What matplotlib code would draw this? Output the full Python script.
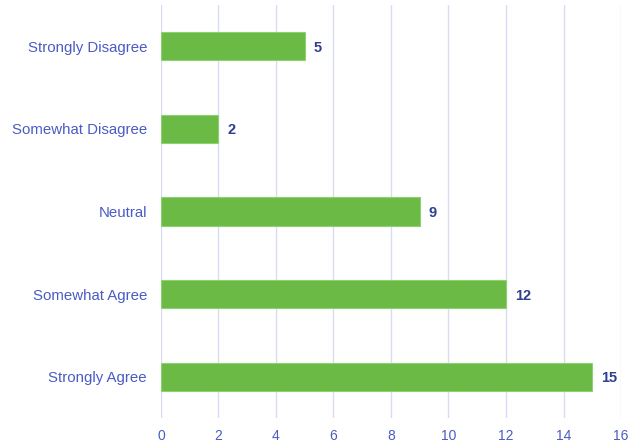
import matplotlib.pyplot as plt

categories = ["Strongly Disagree", "Somewhat Disagree", "Neutral",
              "Somewhat Agree", "Strongly Agree"]
counts = [5, 2, 9, 12, 15]
x_ticks = [0, 2, 4, 6, 8, 10, 12, 14, 16]

plt.rcParams['font.family'] = ['Liberation Sans', 'DejaVu Sans']

fig = plt.figure(figsize=(6.37, 4.44), dpi=100)
ax = fig.add_axes([0.2527, 0.0586, 0.7222, 0.9301])

ypos = list(range(len(categories)))
ax.barh(ypos, counts, height=0.34, color='#6aba45', edgecolor='#8fd06f',
        linewidth=0.8, zorder=3)

for y, v in zip(ypos, counts):
    ax.text(v + 0.3, y, str(v), va='center_baseline', ha='left',
            fontsize=10.5, fontweight='bold', color='#2e3f8f', zorder=4)

ax.set_yticks(ypos)
ax.set_yticklabels(categories)
ax.set_ylim(len(categories) - 0.5, -0.5)
ax.set_xlim(0, 16)
ax.set_xticks(x_ticks)

ax.grid(axis='x', color='#d9dcf0', linewidth=1, zorder=0)
for s in ax.spines.values():
    s.set_visible(False)
ax.tick_params(axis='both', length=0, colors='#4a5cc4')
ax.tick_params(axis='y', labelsize=10.8, pad=10)
ax.tick_params(axis='x', labelsize=10, pad=8)

fig.savefig('out.png', dpi=100)
